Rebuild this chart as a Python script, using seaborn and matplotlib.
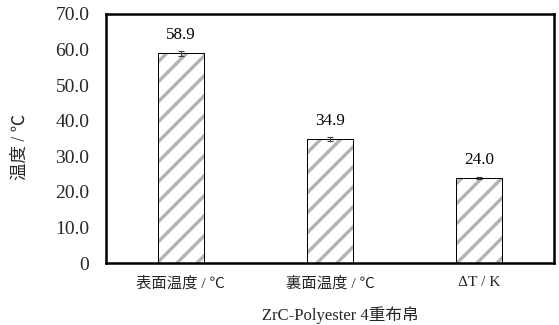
import matplotlib.pyplot as plt
import seaborn as sns
import pandas as pd

categories = ["表面温度 / ℃", "裏面温度 / ℃", "ΔT / K"]
values = [58.9, 34.9, 24.0]
errors = [0.6, 0.5, 0.3]
yticks = [0, 10, 20, 30, 40, 50, 60, 70]
ytick_labels = ["0", "10.0", "20.0", "30.0", "40.0", "50.0", "60.0", "70.0"]

sns.set_theme(style="white")
plt.rcParams['font.family'] = ['Liberation Serif', 'Noto Sans CJK JP']
plt.rcParams['hatch.linewidth'] = 2.0

df = pd.DataFrame({"cat": categories, "val": values})

# dpi 120 so the '//' hatch spacing comes out near 10 px
DPI = 120
fig = plt.figure(figsize=(559 / DPI, 325 / DPI), dpi=DPI)
ax = fig.add_axes([106 / 559, 62 / 325, 448 / 559, 249 / 325])

# hatched fill (gray stripes), no edge
sns.barplot(data=df, x="cat", y="val", color="white", width=0.31,
            edgecolor="#b3b3b3", linewidth=0, errorbar=None, ax=ax)
for p in ax.patches:
    p.set_hatch("//")

# black outline on top
sns.barplot(data=df, x="cat", y="val", fill=False, width=0.31,
            edgecolor="black", linewidth=0.6, errorbar=None, ax=ax)

ax.errorbar(range(len(values)), values, yerr=errors, fmt="none",
            ecolor="#404040", elinewidth=0.7, capsize=2, capthick=0.7)

for i, v in enumerate(values):
    ax.annotate(f"{v:.1f}", (i, v), xytext=(0, 6), textcoords="offset points",
                ha="center", va="bottom", fontsize=10.3, color="black")

ax.set_ylim(0, 70)
ax.set_xlim(-0.5, 2.5)
ax.set_yticks(yticks)
ax.set_yticklabels(ytick_labels, fontsize=11.7)
ax.tick_params(axis="x", labelsize=9.2, length=0, pad=8)
ax.tick_params(axis="y", length=0, pad=10)
for s in ax.spines.values():
    s.set_visible(True)
    s.set_color("black")
    s.set_linewidth(1.5)

ax.set_xlabel("ZrC-Polyester 4重布帛", fontsize=10)
ax.set_ylabel("温度 / ℃", fontsize=10.5)
ax.xaxis.set_label_coords(0.522, -0.175)
ax.yaxis.set_label_coords(-0.172, 0.466)

plt.savefig("out.png", dpi=DPI)
